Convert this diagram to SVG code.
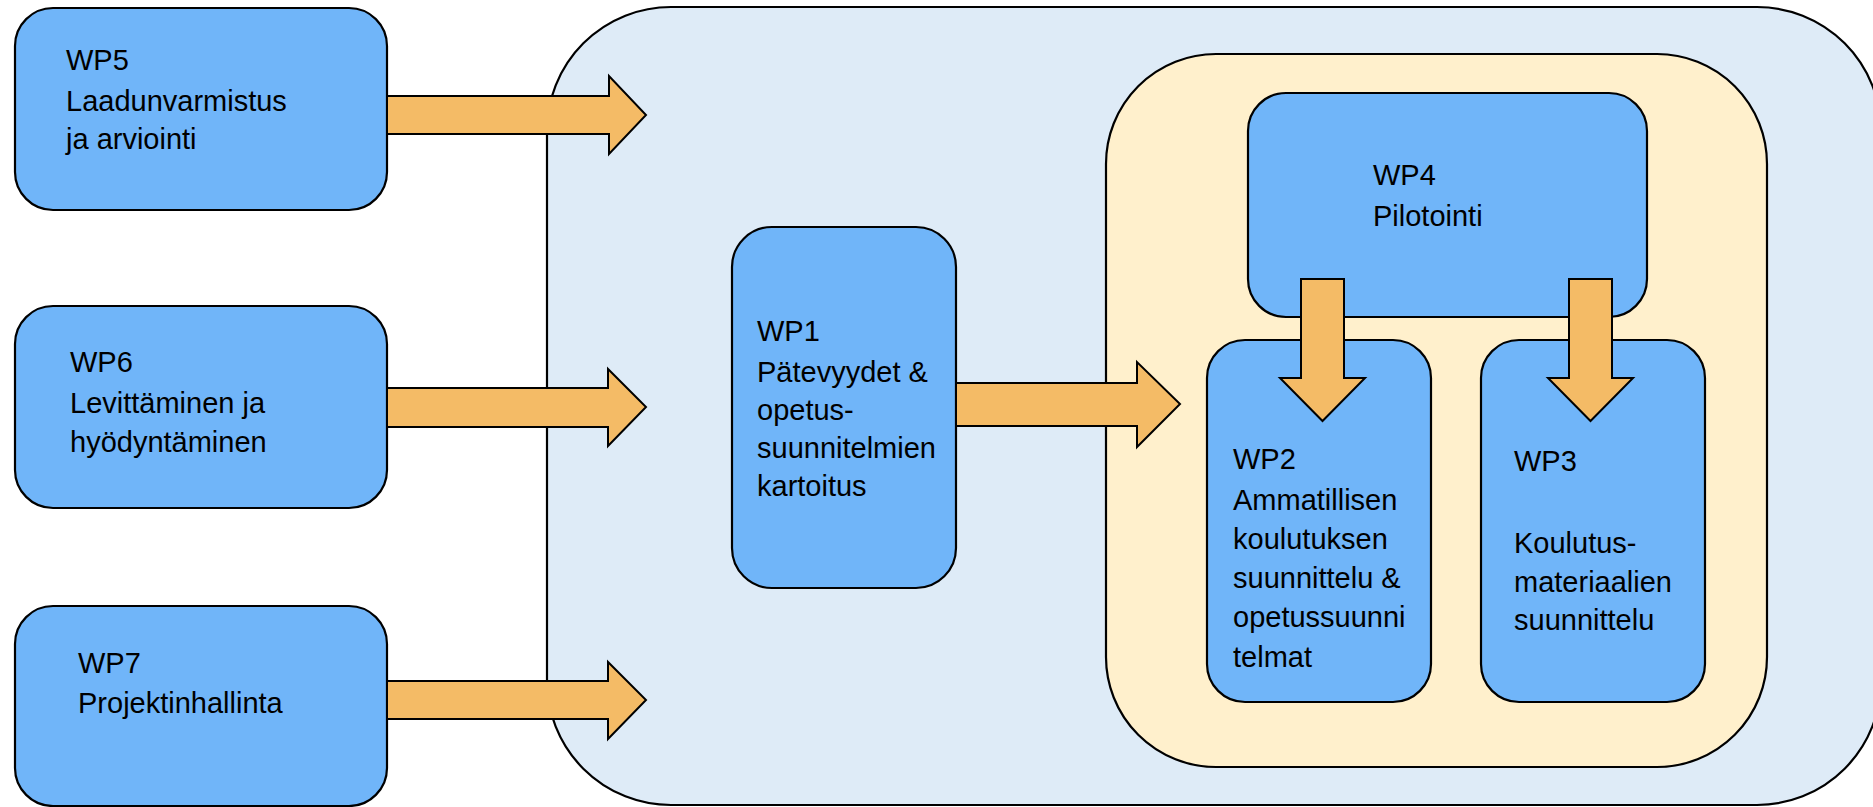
<svg xmlns="http://www.w3.org/2000/svg" width="1873" height="807" viewBox="0 0 1873 807">
<style>
.box{fill:#70B5F9;stroke:#000;stroke-width:2.2}
.outer{fill:#DEEBF7;stroke:#000;stroke-width:2.2}
.inner{fill:#FFF0CC;stroke:#000;stroke-width:2.2}
.arr{fill:#F4BB66;stroke:#000;stroke-width:2;stroke-linejoin:miter}
text{font-family:"Liberation Sans",Arial,sans-serif;font-size:29px;fill:#000}
</style>
<rect width="1873" height="807" fill="#fff"/>
<g id="container-outer"><rect class="outer" x="547" y="7" width="1334" height="798" rx="124" ry="124"/></g>
<g id="container-inner"><rect class="inner" x="1106" y="54" width="661" height="713" rx="110" ry="110"/></g>
<g id="wp1">
<rect class="box" x="732" y="227" width="224" height="361" rx="40" ry="40"/>
<text x="757" y="341">WP1</text>
<text x="757" y="382">Pätevyydet &amp;</text>
<text x="757" y="420">opetus-</text>
<text x="757" y="458">suunnitelmien</text>
<text x="757" y="496">kartoitus</text>
</g>
<g id="wp4">
<rect class="box" x="1248" y="93" width="399" height="224" rx="38" ry="38"/>
<text x="1373" y="185">WP4</text>
<text x="1373" y="226">Pilotointi</text>
</g>
<g id="wp2">
<rect class="box" x="1207" y="340" width="224" height="362" rx="38" ry="38"/>
<text x="1233" y="469">WP2</text>
<text x="1233" y="510">Ammatillisen</text>
<text x="1233" y="549">koulutuksen</text>
<text x="1233" y="588">suunnittelu &amp;</text>
<text x="1233" y="627">opetussuunni</text>
<text x="1233" y="667">telmat</text>
</g>
<g id="wp3">
<rect class="box" x="1481" y="340" width="224" height="362" rx="38" ry="38"/>
<text x="1514" y="471">WP3</text>
<text x="1514" y="553">Koulutus-</text>
<text x="1514" y="592">materiaalien</text>
<text x="1514" y="630">suunnittelu</text>
</g>
<g id="wp5">
<rect class="box" x="15" y="8" width="372" height="202" rx="38" ry="38"/>
<text x="66" y="70">WP5</text>
<text x="66" y="111">Laadunvarmistus</text>
<text x="66" y="149">ja arviointi</text>
</g>
<g id="wp6">
<rect class="box" x="15" y="306" width="372" height="202" rx="38" ry="38"/>
<text x="70" y="372">WP6</text>
<text x="70" y="413">Levittäminen ja</text>
<text x="70" y="452">hyödyntäminen</text>
</g>
<g id="wp7">
<rect class="box" x="15" y="606" width="372" height="200" rx="38" ry="38"/>
<text x="78" y="673">WP7</text>
<text x="78" y="713">Projektinhallinta</text>
</g>
<g id="connectors">
<polygon class="arr" points="387,96 609,96 609,76 646,115 609,154 609,134 387,134"/>
<polygon class="arr" points="387,388 608,388 608,369 646,407 608,446 608,427 387,427"/>
<polygon class="arr" points="387,681 608,681 608,662 646,700 608,739 608,719 387,719"/>
<polygon class="arr" points="956,383 1137,383 1137,362 1180,404 1137,447 1137,426 956,426"/>
<polygon class="arr" points="1301,279 1344,279 1344,378 1365,378 1322.5,421 1280,378 1301,378"/>
<polygon class="arr" points="1569,279 1612,279 1612,378 1633,378 1590.5,421 1548,378 1569,378"/>
</g>
</svg>
